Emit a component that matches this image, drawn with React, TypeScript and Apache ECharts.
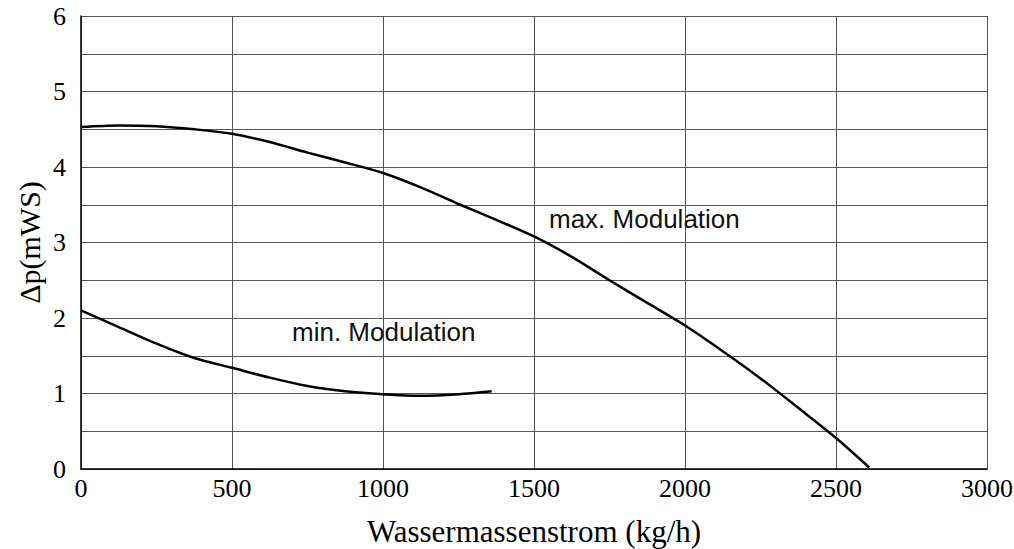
import React, { useEffect, useRef } from "react";
import * as echarts from "echarts";

const maxModulation: [number, number][] = [
  [0, 4.53], [125, 4.55], [250, 4.54], [375, 4.5], [500, 4.44], [625, 4.33],
  [750, 4.19], [875, 4.06], [1000, 3.92], [1125, 3.73], [1250, 3.51],
  [1375, 3.3], [1500, 3.08], [1625, 2.81], [1750, 2.5], [1875, 2.2],
  [2000, 1.9], [2125, 1.56], [2250, 1.2], [2375, 0.81], [2500, 0.41],
  [2610, 0.02],
];
const minModulation: [number, number][] = [
  [0, 2.1], [125, 1.88], [250, 1.66], [375, 1.47], [500, 1.34], [625, 1.21],
  [750, 1.1], [875, 1.03], [1000, 0.99], [1125, 0.97], [1250, 0.99],
  [1360, 1.03],
];
const xTicks = [0, 500, 1000, 1500, 2000, 2500, 3000];
const yTicks = [0, 1, 2, 3, 4, 5, 6];
const xName = "Wassermassenstrom (kg/h)";
const yName = "Δp(mWS)";
const labelMax = "max. Modulation";
const labelMin = "min. Modulation";

const serif = "Liberation Serif";
const sans = "Liberation Sans";

export default function App() {
  const ref = useRef<HTMLDivElement>(null);
  useEffect(() => {
    if (!ref.current) return;
    const chart = echarts.init(ref.current, undefined, { renderer: "svg" });
    chart.setOption({
      animation: false,
      backgroundColor: "#fff",
      grid: {
        left: 81,
        right: 27,
        top: 16,
        bottom: 80,
        containLabel: false,
        outerBoundsMode: "none",
      },
      xAxis: {
        type: "value",
        min: xTicks[0],
        max: xTicks[xTicks.length - 1],
        interval: 500,
        name: xName,
        nameLocation: "middle",
        nameGap: 47,
        nameTextStyle: { fontFamily: serif, fontSize: 31, color: "#000" },
        axisLine: { show: true, onZero: false, lineStyle: { color: "#000", width: 1.5 } },
        axisTick: { show: false },
        axisLabel: { show: false },
        splitLine: { show: true, lineStyle: { color: "#555", width: 1 } },
      },
      yAxis: {
        type: "value",
        min: yTicks[0],
        max: yTicks[yTicks.length - 1],
        interval: 0.5,
        name: yName,
        nameLocation: "middle",
        nameGap: 37,
        nameTextStyle: { fontFamily: serif, fontSize: 30, color: "#000" },
        axisLine: { show: true, lineStyle: { color: "#000", width: 1.5 } },
        axisTick: { show: false },
        axisLabel: { show: false },
        splitLine: { show: true, lineStyle: { color: "#555", width: 1 } },
      },
      series: [
        {
          type: "line",
          name: labelMax,
          data: maxModulation,
          smooth: 0.3,
          showSymbol: false,
          lineStyle: { color: "#000", width: 2.5 },
        },
        {
          type: "line",
          name: labelMin,
          data: minModulation,
          smooth: 0.3,
          showSymbol: false,
          lineStyle: { color: "#000", width: 2.5 },
        },
      ],
    });

    const tickFont = `26px "${serif}"`;
    const xLabels = xTicks.map((v) => {
      const p = chart.convertToPixel({ gridIndex: 0 }, [v, 0]) as number[];
      return {
        type: "text",
        x: p[0],
        y: p[1] + 6,
        style: {
          text: String(v),
          font: tickFont,
          fill: "#000",
          align: "center",
          verticalAlign: "top",
          textAlign: "center",
          textVerticalAlign: "top",
        },
      };
    });
    const yLabels = yTicks.map((v) => {
      const p = chart.convertToPixel({ gridIndex: 0 }, [0, v]) as number[];
      return {
        type: "text",
        x: p[0] - 15,
        y: p[1],
        style: {
          text: String(v),
          font: tickFont,
          fill: "#000",
          align: "right",
          verticalAlign: "middle",
          textAlign: "right",
          textVerticalAlign: "middle",
        },
      };
    });

    chart.setOption({
      graphic: [
        {
          type: "text",
          left: 549,
          top: 206,
          style: { text: labelMax, font: `26px "${sans}"`, fill: "#111" },
        },
        {
          type: "text",
          left: 292,
          top: 319,
          style: { text: labelMin, font: `26px "${sans}"`, fill: "#111" },
        },
        ...xLabels,
        ...yLabels,
      ],
    });
    return () => chart.dispose();
  }, []);
  return (
    <div
      ref={ref}
      style={{ position: "fixed", left: 0, top: 0, width: 1014, height: 549 }}
    />
  );
}
